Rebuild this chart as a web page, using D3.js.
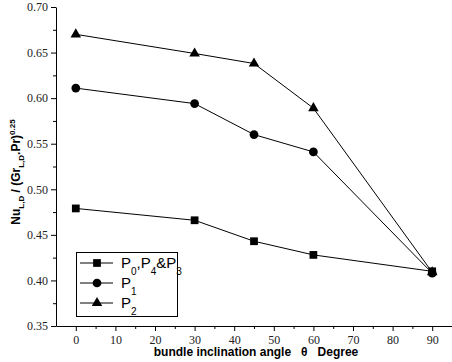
<!DOCTYPE html>
<html>
<head>
<meta charset="utf-8">
<script src="https://cdn.jsdelivr.net/npm/d3@7"></script>
<style>
  body { margin: 0; background: #fff; }
  svg { display: block; }
</style>
</head>
<body>
<svg id="chart" width="452" height="362"></svg>
<script>
var svg = d3.select("#chart");
var width = 452;
var height = 362;
var margin = { top: 7, right: 0, bottom: 36, left: 56 };

// angles (degree)
var angles = [0, 30, 45, 60, 90];
var p0Values = [0.479, 0.466, 0.443, 0.428, 0.410];
var p1Values = [0.611, 0.594, 0.560, 0.541, 0.408];
var p2Values = [0.670, 0.649, 0.638, 0.589, 0.409];
var xTicks = [0, 10, 20, 30, 40, 50, 60, 70, 80, 90];
var yTicks = [0.35, 0.40, 0.45, 0.50, 0.55, 0.60, 0.65, 0.70];

var series = [
	{ name: "p0", values: p0Values, shape: d3.symbolSquare },
	{ name: "p1", values: p1Values, shape: d3.symbolCircle },
	{ name: "p2", values: p2Values, shape: d3.symbolTriangle }
];

const xScale = d3.scaleLinear()
	.domain([-5, 95])
	.range([margin.left, width - margin.right]);
const yScale = d3.scaleLinear()
	.domain([0.35, 0.70])
	.range([height - margin.bottom, margin.top]);

// minor ticks
svg.append("g")
	.attr("transform", `translate(0, ${height - margin.bottom})`)
	.call(d3.axisBottom(xScale).tickValues(d3.range(5, 95, 10)).tickSize(3).tickFormat(""))
	.call(g => g.select(".domain").remove());
svg.append("g")
	.attr("transform", `translate(${margin.left}, 0)`)
	.call(d3.axisLeft(yScale).tickValues(yTicks.slice(0, -1).map(d => d + 0.025)).tickSize(3).tickFormat(""))
	.call(g => g.select(".domain").remove());

var xAxis = svg.append("g")
	.attr("transform", `translate(0, ${height - margin.bottom})`)
	.call(d3.axisBottom(xScale).tickValues(xTicks).tickSize(5).tickSizeOuter(0).tickPadding(4));
var yAxis = svg.append("g")
	.attr("transform", `translate(${margin.left}, 0)`)
	.call(d3.axisLeft(yScale).tickValues(yTicks).tickSize(5).tickSizeOuter(0).tickPadding(3).tickFormat(d3.format(".2f")));

[xAxis, yAxis].forEach(g => {
	g.attr("font-family", null);
	g.selectAll("text")
		.style("font-family", "'Liberation Serif', 'DejaVu Serif', serif")
		.attr("font-size", "12px")
		.attr("fill", "#222");
	g.selectAll("line, path").attr("stroke", "#000");
});

svg.append("text")
	.attr("x", 256)
	.attr("y", 356)
	.attr("text-anchor", "middle")
	.attr("font-family", "Liberation Sans, Arial, sans-serif")
	.attr("font-weight", "bold")
	.attr("font-size", "12px")
	.attr("fill", "black")
	.attr("xml:space", "preserve")
	.text("bundle inclination angle   \u03b8   Degree");

var yLabel = svg.append("text")
	.attr("transform", "translate(20, 172) rotate(-90)")
	.attr("text-anchor", "middle")
	.attr("font-family", "Liberation Sans, Arial, sans-serif")
	.attr("font-weight", "bold")
	.attr("font-size", "12px")
	.attr("fill", "black");
yLabel.append("tspan").text("Nu");
yLabel.append("tspan").attr("dy", 4).attr("font-size", "8px").text("L,D");
yLabel.append("tspan").attr("dy", -4).text(" / (Gr");
yLabel.append("tspan").attr("dy", 4).attr("font-size", "8px").text("L,D");
yLabel.append("tspan").attr("dy", -4).text(".Pr)");
yLabel.append("tspan").attr("dy", -5).attr("font-size", "8px").text("0.25");

var line = d3.line()
	.x((d, i) => xScale(angles[i]))
	.y(d => yScale(d));

series.forEach(s => {
	svg.append("path")
		.datum(s.values)
		.attr("d", line)
		.attr("fill", "none")
		.attr("stroke", "black")
		.attr("stroke-width", 1);
	svg.selectAll(".m-" + s.name)
		.data(s.values)
		.enter()
		.append("path")
		.attr("class", "m-" + s.name)
		.attr("transform", (d, i) => `translate(${xScale(angles[i])}, ${yScale(d)})`)
		.attr("d", d3.symbol().type(s.shape).size(s.shape === d3.symbolTriangle ? 48 : 60))
		.attr("fill", "black");
});

// legend
var legend = svg.append("g");
legend.append("rect")
	.attr("x", 76.5)
	.attr("y", 252.5)
	.attr("width", 101)
	.attr("height", 64)
	.attr("fill", "white")
	.attr("stroke", "black")
	.attr("stroke-width", 1);

var legendLabels = [
	[["P", 0], ["0", 1], [",P", 0], ["4", 1], ["&P", 0], ["3", 1]],
	[["P", 0], ["1", 1]],
	[["P", 0], ["2", 1]]
];
var legendY = [263, 283, 303];

series.forEach((s, i) => {
	var ly = legendY[i];
	legend.append("line")
		.attr("x1", 80).attr("x2", 113)
		.attr("y1", ly).attr("y2", ly)
		.attr("stroke", "black");
	legend.append("path")
		.attr("transform", `translate(97, ${ly})`)
		.attr("d", d3.symbol().type(s.shape).size(s.shape === d3.symbolTriangle ? 48 : 60))
		.attr("fill", "black");
	var t = legend.append("text")
		.attr("x", 121)
		.attr("y", ly + 5)
		.attr("font-family", "Liberation Sans, Arial, sans-serif")
		.attr("font-size", "15px")
		.attr("fill", "black");
	var prevSub = 0;
	legendLabels[i].forEach(p => {
		var dy = p[1] === prevSub ? 0 : (p[1] ? 7 : -7);
		t.append("tspan")
			.attr("dy", dy)
			.attr("font-size", p[1] ? "10px" : "15px")
			.text(p[0]);
		prevSub = p[1];
	});
});
</script>
</body>
</html>
